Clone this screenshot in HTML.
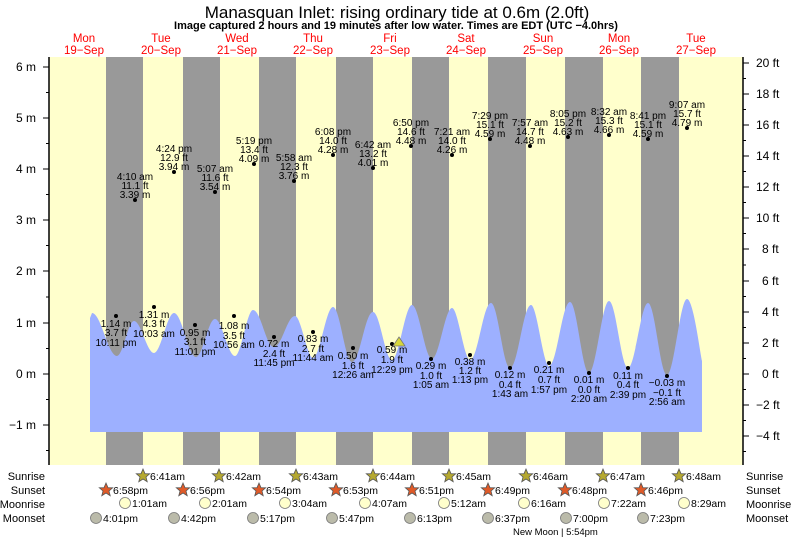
<!DOCTYPE html>
<html><head><meta charset="utf-8"><style>
html,body{margin:0;padding:0;background:#fff;}
svg{display:block;font-family:"Liberation Sans",sans-serif;}
</style></head><body>
<svg width="793" height="539" viewBox="0 0 793 539" xmlns="http://www.w3.org/2000/svg">
<defs>
<polygon id="star" points="0,-7 2,-2.3 6.7,-2.2 3,1 4.2,5.7 0,3 -4.2,5.7 -3,1 -6.7,-2.2 -2,-2.3" stroke="#555" stroke-width="0.8"/>
</defs>
<rect x="0" y="0" width="793" height="539" fill="#fff"/>
<rect x="49" y="57" width="694" height="408" fill="#ffffcc"/>
<g fill="#999">
<rect x="106" y="57" width="37" height="408"/>
<rect x="183" y="57" width="37" height="408"/>
<rect x="259" y="57" width="37" height="408"/>
<rect x="336" y="57" width="37" height="408"/>
<rect x="412" y="57" width="37" height="408"/>
<rect x="488" y="57" width="38" height="408"/>
<rect x="565" y="57" width="38" height="408"/>
<rect x="641" y="57" width="38" height="408"/>
</g>
<path fill="#9db0ff" d="M90,432 L90,318 L92,313 C101,313 108,356 117,356 C123,356 128,321 134,321 C141,321 147,353 154,353 C161,353 167,313 174,313 C182,313 188,357 196,357 C203,357 208,319 215,319 C222,319 228,356 235,356 C241,356 247,310 253,310 C261,310 266,347 274,347 C282,347 287,316 295,316 C301,316 307,358 313,358 C320,358 326,307 333,307 C340,307 345,362 352,362 C360,362 365,312 373,312 C380,312 385,360 392,360 C399,360 405,305 412,305 C419,305 425,359 432,359 C439,359 445,308 452,308 C458,308 464,360 470,360 C478,360 483,303 491,303 C498,303 503,368 510,368 C518,368 523,305 531,305 C537,305 543,366 549,366 C557,366 562,302 570,302 C577,302 582,373 589,373 C596,373 602,301 609,301 C616,301 621,368 628,368 C635,368 641,303 648,303 C655,303 660,375 667,375 C674,375 680,299 687,299 C693,299 699,345 702,361 L702,432 Z"/>
<line x1="49" y1="57" x2="49" y2="465" stroke="#000" stroke-width="1.5"/>
<line x1="743" y1="57" x2="743" y2="465" stroke="#000" stroke-width="1.5"/>
<g stroke="#000" stroke-width="1">
<line x1="43" y1="67" x2="49" y2="67"/><line x1="43" y1="118" x2="49" y2="118"/><line x1="43" y1="169" x2="49" y2="169"/><line x1="43" y1="220" x2="49" y2="220"/><line x1="43" y1="271" x2="49" y2="271"/><line x1="43" y1="323" x2="49" y2="323"/><line x1="43" y1="374" x2="49" y2="374"/><line x1="43" y1="425" x2="49" y2="425"/>
<line x1="46" y1="92.5" x2="49" y2="92.5"/><line x1="46" y1="143.5" x2="49" y2="143.5"/><line x1="46" y1="194.5" x2="49" y2="194.5"/><line x1="46" y1="245.5" x2="49" y2="245.5"/><line x1="46" y1="297" x2="49" y2="297"/><line x1="46" y1="348.5" x2="49" y2="348.5"/><line x1="46" y1="399.5" x2="49" y2="399.5"/><line x1="46" y1="450.5" x2="49" y2="450.5"/>
<line x1="743" y1="63" x2="749" y2="63"/><line x1="743" y1="94" x2="749" y2="94"/><line x1="743" y1="125" x2="749" y2="125"/><line x1="743" y1="156" x2="749" y2="156"/><line x1="743" y1="187" x2="749" y2="187"/><line x1="743" y1="218" x2="749" y2="218"/><line x1="743" y1="249" x2="749" y2="249"/><line x1="743" y1="281" x2="749" y2="281"/><line x1="743" y1="312" x2="749" y2="312"/><line x1="743" y1="343" x2="749" y2="343"/><line x1="743" y1="374" x2="749" y2="374"/><line x1="743" y1="405" x2="749" y2="405"/><line x1="743" y1="436" x2="749" y2="436"/>
<line x1="743" y1="78.5" x2="746" y2="78.5"/><line x1="743" y1="109.5" x2="746" y2="109.5"/><line x1="743" y1="140.5" x2="746" y2="140.5"/><line x1="743" y1="171.5" x2="746" y2="171.5"/><line x1="743" y1="202.5" x2="746" y2="202.5"/><line x1="743" y1="233.5" x2="746" y2="233.5"/><line x1="743" y1="265" x2="746" y2="265"/><line x1="743" y1="296.5" x2="746" y2="296.5"/><line x1="743" y1="327.5" x2="746" y2="327.5"/><line x1="743" y1="358.5" x2="746" y2="358.5"/><line x1="743" y1="389.5" x2="746" y2="389.5"/><line x1="743" y1="420.5" x2="746" y2="420.5"/><line x1="743" y1="451.5" x2="746" y2="451.5"/>
</g>
<g font-size="12" fill="#000" text-anchor="end">
<text x="36" y="71">6 m</text><text x="36" y="122">5 m</text><text x="36" y="173">4 m</text><text x="36" y="224">3 m</text><text x="36" y="275">2 m</text><text x="36" y="327">1 m</text><text x="36" y="378">0 m</text><text x="36" y="429">−1 m</text>
</g>
<g font-size="12" fill="#000" text-anchor="start">
<text x="756" y="67">20 ft</text><text x="756" y="98">18 ft</text><text x="756" y="129">16 ft</text><text x="756" y="160">14 ft</text><text x="756" y="191">12 ft</text><text x="756" y="222">10 ft</text><text x="762" y="253">8 ft</text><text x="762" y="285">6 ft</text><text x="762" y="316">4 ft</text><text x="762" y="347">2 ft</text><text x="762" y="378">0 ft</text><text x="756" y="409">−2 ft</text><text x="756" y="440">−4 ft</text>
</g>
<text x="397" y="18" font-size="17" text-anchor="middle">Manasquan Inlet: rising  ordinary tide at 0.6m (2.0ft)</text>
<text x="396" y="29" font-size="11" font-weight="bold" text-anchor="middle">Image captured 2 hours and 19 minutes after low water. Times are EDT (UTC −4.0hrs)</text>
<g font-size="11.5" fill="#ff0000" text-anchor="middle">
<text x="84" y="42">Mon</text><text x="84" y="54">19−Sep</text>
<text x="161" y="42">Tue</text><text x="161" y="54">20−Sep</text>
<text x="237" y="42">Wed</text><text x="237" y="54">21−Sep</text>
<text x="313" y="42">Thu</text><text x="313" y="54">22−Sep</text>
<text x="390" y="42">Fri</text><text x="390" y="54">23−Sep</text>
<text x="466" y="42">Sat</text><text x="466" y="54">24−Sep</text>
<text x="543" y="42">Sun</text><text x="543" y="54">25−Sep</text>
<text x="619" y="42">Mon</text><text x="619" y="54">26−Sep</text>
<text x="696" y="42">Tue</text><text x="696" y="54">27−Sep</text>
</g>
<g font-size="10" fill="#000" text-anchor="middle">
<circle cx="135" cy="200" r="2"/><text x="135" y="180">4:10 am</text><text x="135" y="189">11.1 ft</text><text x="135" y="198">3.39 m</text>
<circle cx="174" cy="172" r="2"/><text x="174" y="152">4:24 pm</text><text x="174" y="161">12.9 ft</text><text x="174" y="170">3.94 m</text>
<circle cx="215" cy="192" r="2"/><text x="215" y="172">5:07 am</text><text x="215" y="181">11.6 ft</text><text x="215" y="190">3.54 m</text>
<circle cx="254" cy="164" r="2"/><text x="254" y="144">5:19 pm</text><text x="254" y="153">13.4 ft</text><text x="254" y="162">4.09 m</text>
<circle cx="294" cy="181" r="2"/><text x="294" y="161">5:58 am</text><text x="294" y="170">12.3 ft</text><text x="294" y="179">3.76 m</text>
<circle cx="333" cy="155" r="2"/><text x="333" y="135">6:08 pm</text><text x="333" y="144">14.0 ft</text><text x="333" y="153">4.28 m</text>
<circle cx="373" cy="168" r="2"/><text x="373" y="148">6:42 am</text><text x="373" y="157">13.2 ft</text><text x="373" y="166">4.01 m</text>
<circle cx="411" cy="146" r="2"/><text x="411" y="126">6:50 pm</text><text x="411" y="135">14.6 ft</text><text x="411" y="144">4.48 m</text>
<circle cx="452" cy="155" r="2"/><text x="452" y="135">7:21 am</text><text x="452" y="144">14.0 ft</text><text x="452" y="153">4.26 m</text>
<circle cx="490" cy="139" r="2"/><text x="490" y="119">7:29 pm</text><text x="490" y="128">15.1 ft</text><text x="490" y="137">4.59 m</text>
<circle cx="530" cy="146" r="2"/><text x="530" y="126">7:57 am</text><text x="530" y="135">14.7 ft</text><text x="530" y="144">4.48 m</text>
<circle cx="568" cy="137" r="2"/><text x="568" y="117">8:05 pm</text><text x="568" y="126">15.2 ft</text><text x="568" y="135">4.63 m</text>
<circle cx="609" cy="135" r="2"/><text x="609" y="115">8:32 am</text><text x="609" y="124">15.3 ft</text><text x="609" y="133">4.66 m</text>
<circle cx="648" cy="139" r="2"/><text x="648" y="119">8:41 pm</text><text x="648" y="128">15.1 ft</text><text x="648" y="137">4.59 m</text>
<circle cx="687" cy="128" r="2"/><text x="687" y="108">9:07 am</text><text x="687" y="117">15.7 ft</text><text x="687" y="126">4.79 m</text>
</g>
<g font-size="10" fill="#000" text-anchor="middle">
<circle cx="116" cy="316" r="2"/><text x="116" y="327">1.14 m</text><text x="116" y="336">3.7 ft</text><text x="116" y="346">10:11 pm</text>
<circle cx="154" cy="307" r="2"/><text x="154" y="318">1.31 m</text><text x="154" y="327">4.3 ft</text><text x="154" y="337">10:03 am</text>
<circle cx="195" cy="325" r="2"/><text x="195" y="336">0.95 m</text><text x="195" y="345">3.1 ft</text><text x="195" y="355">11:01 pm</text>
<circle cx="234" cy="316" r="2"/><text x="234" y="329">1.08 m</text><text x="234" y="339">3.5 ft</text><text x="234" y="348">10:56 am</text>
<circle cx="274" cy="337" r="2"/><text x="274" y="347">0.72 m</text><text x="274" y="357">2.4 ft</text><text x="274" y="366">11:45 pm</text>
<circle cx="313" cy="332" r="2"/><text x="313" y="342">0.83 m</text><text x="313" y="352">2.7 ft</text><text x="313" y="361">11:44 am</text>
<circle cx="353" cy="348" r="2"/><text x="353" y="359">0.50 m</text><text x="353" y="369">1.6 ft</text><text x="353" y="378">12:26 am</text>
<circle cx="392" cy="344" r="2"/><text x="392" y="353">0.59 m</text><text x="392" y="363">1.9 ft</text><text x="392" y="373">12:29 pm</text>
<circle cx="431" cy="359" r="2"/><text x="431" y="369">0.29 m</text><text x="431" y="379">1.0 ft</text><text x="431" y="388">1:05 am</text>
<circle cx="470" cy="355" r="2"/><text x="470" y="365">0.38 m</text><text x="470" y="374">1.2 ft</text><text x="470" y="383">1:13 pm</text>
<circle cx="510" cy="368" r="2"/><text x="510" y="378">0.12 m</text><text x="510" y="388">0.4 ft</text><text x="510" y="397">1:43 am</text>
<circle cx="549" cy="363" r="2"/><text x="549" y="373">0.21 m</text><text x="549" y="383">0.7 ft</text><text x="549" y="393">1:57 pm</text>
<circle cx="589" cy="373" r="2"/><text x="589" y="383">0.01 m</text><text x="589" y="393">0.0 ft</text><text x="589" y="402">2:20 am</text>
<circle cx="628" cy="368" r="2"/><text x="628" y="379">0.11 m</text><text x="628" y="388">0.4 ft</text><text x="628" y="398">2:39 pm</text>
<circle cx="667" cy="376" r="2"/><text x="667" y="386">−0.03 m</text><text x="667" y="396">−0.1 ft</text><text x="667" y="405">2:56 am</text>
</g>
<polygon points="399,337 405,346 393,346" fill="#d6d63a" stroke="#777" stroke-width="0.8"/>
<g font-size="11" fill="#000">
<text x="45" y="480" text-anchor="end">Sunrise</text>
<text x="45" y="494" text-anchor="end">Sunset</text>
<text x="45" y="508" text-anchor="end">Moonrise</text>
<text x="45" y="522" text-anchor="end">Moonset</text>
<text x="746" y="480">Sunrise</text>
<text x="746" y="494">Sunset</text>
<text x="746" y="508">Moonrise</text>
<text x="746" y="522">Moonset</text>
</g>
<g fill="#b5a830">
<use href="#star" x="143" y="476"/><use href="#star" x="219" y="476"/><use href="#star" x="296" y="476"/><use href="#star" x="373" y="476"/><use href="#star" x="449" y="476"/><use href="#star" x="526" y="476"/><use href="#star" x="603" y="476"/><use href="#star" x="679" y="476"/>
</g>
<g fill="#e05a28">
<use href="#star" x="106" y="490"/><use href="#star" x="183" y="490"/><use href="#star" x="259" y="490"/><use href="#star" x="336" y="490"/><use href="#star" x="412" y="490"/><use href="#star" x="488" y="490"/><use href="#star" x="565" y="490"/><use href="#star" x="641" y="490"/>
</g>
<g fill="#ffffcc" stroke="#777" stroke-width="0.8">
<circle cx="125" cy="503" r="5.5"/><circle cx="205" cy="503" r="5.5"/><circle cx="285" cy="503" r="5.5"/><circle cx="365" cy="503" r="5.5"/><circle cx="444" cy="503" r="5.5"/><circle cx="524" cy="503" r="5.5"/><circle cx="604" cy="503" r="5.5"/><circle cx="684" cy="503" r="5.5"/>
</g>
<g fill="#bbbbaa" stroke="#777" stroke-width="0.8">
<circle cx="96" cy="518" r="5.5"/><circle cx="174" cy="518" r="5.5"/><circle cx="253" cy="518" r="5.5"/><circle cx="332" cy="518" r="5.5"/><circle cx="410" cy="518" r="5.5"/><circle cx="488" cy="518" r="5.5"/><circle cx="566" cy="518" r="5.5"/><circle cx="643" cy="518" r="5.5"/>
</g>
<g font-size="10.5" fill="#000">
<text x="150" y="480">6:41am</text><text x="226" y="480">6:42am</text><text x="303" y="480">6:43am</text><text x="380" y="480">6:44am</text><text x="456" y="480">6:45am</text><text x="533" y="480">6:46am</text><text x="610" y="480">6:47am</text><text x="686" y="480">6:48am</text>
<text x="113" y="494">6:58pm</text><text x="190" y="494">6:56pm</text><text x="266" y="494">6:54pm</text><text x="343" y="494">6:53pm</text><text x="419" y="494">6:51pm</text><text x="495" y="494">6:49pm</text><text x="572" y="494">6:48pm</text><text x="648" y="494">6:46pm</text>
<text x="132" y="507">1:01am</text><text x="212" y="507">2:01am</text><text x="292" y="507">3:04am</text><text x="372" y="507">4:07am</text><text x="451" y="507">5:12am</text><text x="531" y="507">6:16am</text><text x="611" y="507">7:22am</text><text x="691" y="507">8:29am</text>
<text x="103" y="522">4:01pm</text><text x="181" y="522">4:42pm</text><text x="260" y="522">5:17pm</text><text x="339" y="522">5:47pm</text><text x="417" y="522">6:13pm</text><text x="495" y="522">6:37pm</text><text x="573" y="522">7:00pm</text><text x="650" y="522">7:23pm</text>
<text x="513" y="535" font-size="9.5">New Moon | 5:54pm</text>
</g>
</svg>
</body></html>
